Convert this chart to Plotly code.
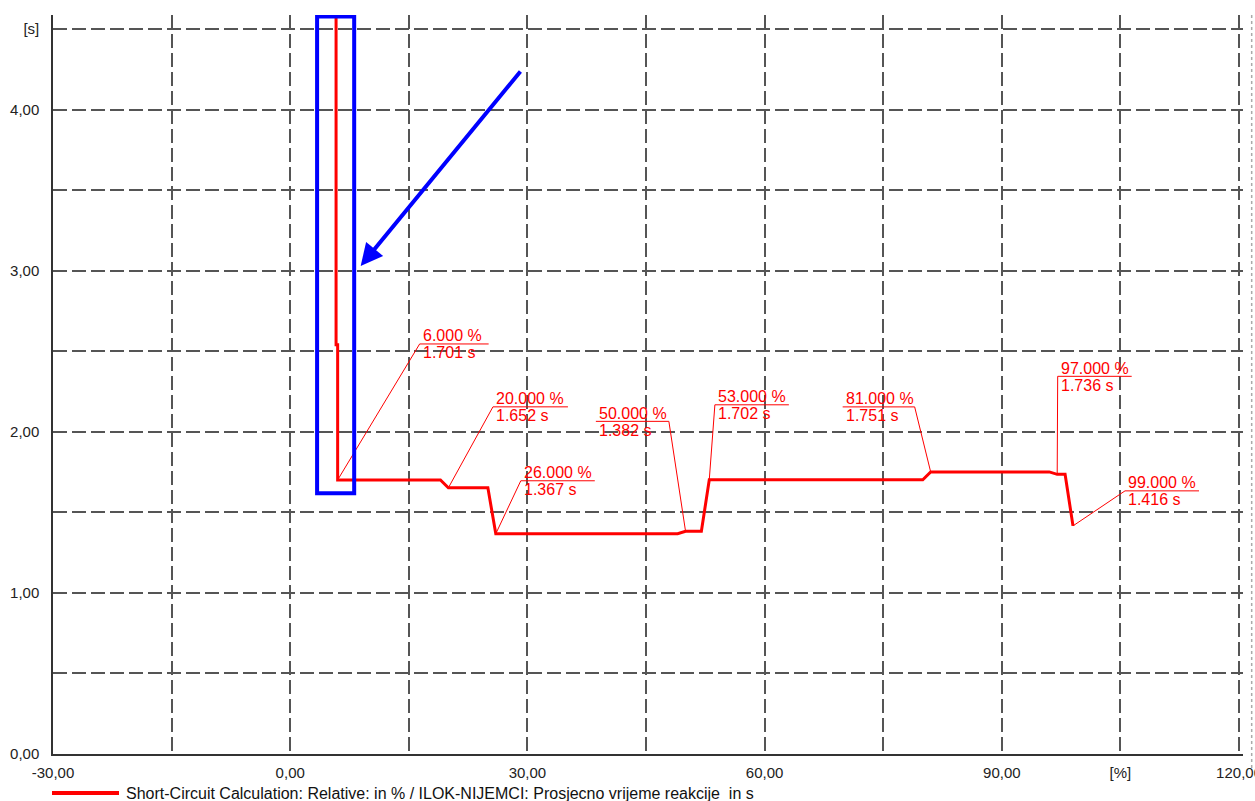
import plotly.graph_objects as go

# ---- data ----
curve_x = [5.8, 5.8, 6.0, 6.0, 19, 20, 25, 26, 49, 50, 52, 53, 80, 81, 96, 97, 98, 99]
curve_y = [5.0, 2.54, 2.54, 1.701, 1.701, 1.652, 1.652, 1.367, 1.367, 1.382, 1.382,
           1.702, 1.702, 1.751, 1.751, 1.736, 1.736, 1.416]

mark_x = [6, 20, 26, 50, 53, 81, 97, 99]
mark_y = [1.701, 1.652, 1.367, 1.382, 1.702, 1.751, 1.736, 1.416]

x_tickvals = [-30, -15, 0, 15, 30, 45, 60, 75, 90, 105, 120]
x_ticktext = ["-30,00", "", "0,00", "", "30,00", "", "60,00", "", "90,00", "[%]", "120,00"]
y_tickvals = [0, 0.5, 1, 1.5, 2, 2.5, 3, 3.5, 4, 4.5]
y_ticktext = ["0,00", "", "1,00", "", "2,00", "", "3,00", "", "4,00", "[s]"]

series_name = "Short-Circuit Calculation: Relative: in % / ILOK-NIJEMCI: Prosjecno vrijeme reakcije\u00a0 in s"

# ---- label layout (pixel offsets from the marked point) ----
label_dx = [82, 44.6, 25, -16.7, 5.6, -16, 0.5, 52]
label_up = [136, 81, 53, 110, 75, 65, 98, 35]
label_u0 = [0, 0, 0, -73, 0, -72, 0, 0]
label_len = [69, 75, 74, 73, 74, 72, 74, 74]

RED = "#ff0000"
BLUE = "#0000ff"
GRID = "#555555"
FONT = "Liberation Sans, Arial, sans-serif"

fig = go.Figure()
fig.add_trace(go.Scatter(x=curve_x, y=curve_y, mode="lines", name=series_name,
                         line=dict(color=RED, width=3), showlegend=False,
                         hoverinfo="skip"))

shapes = []
annotations = []
for x, y, dx, up, u0, L in zip(mark_x, mark_y, label_dx, label_up, label_u0, label_len):
    shapes.append(dict(type="line", xref="x", yref="y",
                       xsizemode="pixel", ysizemode="pixel",
                       xanchor=x, yanchor=y, x0=0, x1=dx, y0=0, y1=up,
                       line=dict(color=RED, width=1)))
    shapes.append(dict(type="line", xref="x", yref="y",
                       xsizemode="pixel", ysizemode="pixel",
                       xanchor=x, yanchor=y, x0=dx + u0, x1=dx + u0 + L, y0=up, y1=up,
                       line=dict(color=RED, width=1)))
    annotations.append(dict(x=x, y=y, xref="x", yref="y", showarrow=False,
                            text=f"{x:.3f} %", xanchor="left", yanchor="middle",
                            xshift=dx + u0 + 1, yshift=up + 8,
                            font=dict(family=FONT, size=16, color=RED)))
    annotations.append(dict(x=x, y=y, xref="x", yref="y", showarrow=False,
                            text=f"{y:.3f} s", xanchor="left", yanchor="middle",
                            xshift=dx + u0 + 1, yshift=up - 9,
                            font=dict(family=FONT, size=16, color=RED)))

# blue highlight box and arrow
shapes.append(dict(type="rect", xref="x", yref="y", x0=3.4, x1=8.09, y0=1.618, y1=4.578,
                   line=dict(color=BLUE, width=4)))
annotations.append(dict(x=8.91, y=3.029, ax=29.27, ay=4.246, xref="x", yref="y",
                        axref="x", ayref="y", text="", showarrow=True,
                        arrowhead=2, arrowsize=1.1, arrowwidth=4, arrowcolor=BLUE,
                        standoff=0))

# window edge dotted line
shapes.append(dict(type="line", xref="paper", yref="paper", x0=1.0073, x1=1.0073,
                   y0=1.0, y1=-0.02, line=dict(color="#aaaaaa", width=1.5, dash="dot")))

# manual legend
shapes.append(dict(type="line", xref="paper", yref="paper",
                   x0=(52 - 53) / 1190, x1=(119 - 53) / 1190,
                   y0=(754 - 793) / 739, y1=(754 - 793) / 739,
                   line=dict(color=RED, width=4)))
annotations.append(dict(x=(124 - 53) / 1190, y=(754 - 793) / 739, xref="paper", yref="paper",
                        text=series_name, showarrow=False, xanchor="left", yanchor="middle",
                        font=dict(family=FONT, size=16, color="#111111")))

fig.update_layout(
    width=1255, height=801,
    margin=dict(l=53, r=12, t=15, b=47),
    paper_bgcolor="white", plot_bgcolor="white",
    shapes=shapes, annotations=annotations,
    showlegend=False,
    font=dict(family=FONT, size=15, color="#222222"),
)
fig.update_xaxes(range=[-30, 120.5], tickvals=x_tickvals, ticktext=x_ticktext,
                 showgrid=True, gridcolor=GRID, gridwidth=1.5, griddash="14px,5px",
                 showline=True, linecolor="#333333", linewidth=1.5, ticks="",
                 zeroline=False, ticklabelstandoff=4, ticklabeloverflow="allow",
                 automargin=False,
                 tickfont=dict(family=FONT, size=15, color="#222222"))
fig.update_yaxes(range=[0, 4.587], tickvals=y_tickvals, ticktext=y_ticktext,
                 showgrid=True, gridcolor=GRID, gridwidth=1.5, griddash="14px,5px",
                 showline=True, linecolor="#333333", linewidth=1.5, ticks="",
                 zeroline=False, ticklabelstandoff=9, automargin=False,
                 tickfont=dict(family=FONT, size=15, color="#222222"))

fig.write_html("out.html", config={"displayModeBar": False},
               post_script="document.body.style.margin='0';document.body.style.overflow='hidden';")
